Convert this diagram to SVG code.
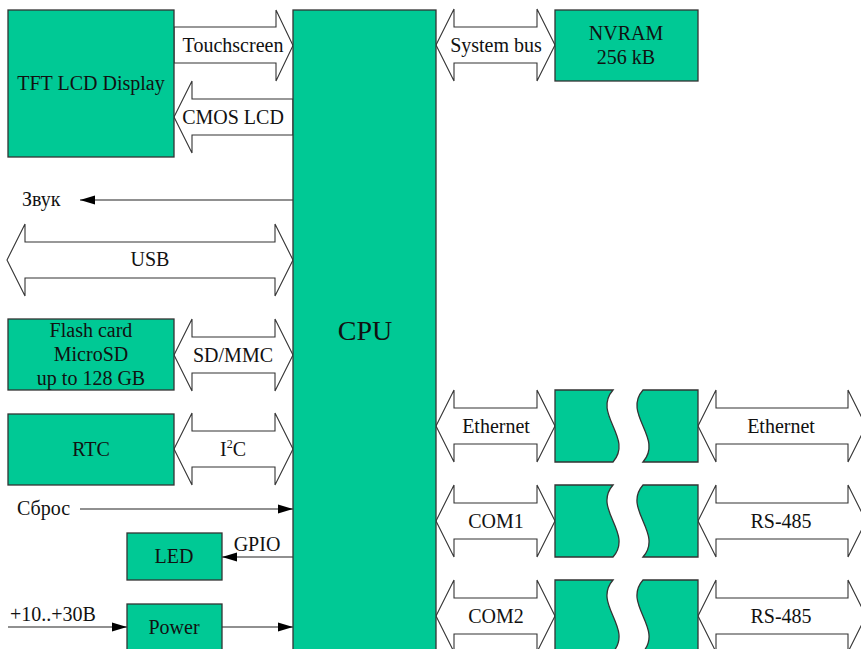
<svg xmlns="http://www.w3.org/2000/svg" width="861" height="649" viewBox="0 0 861 649">
<style>
.box{fill:#00C995;stroke:#333;stroke-width:1.3}
.bus{fill:#fff;stroke:#333;stroke-width:1.1}
.ln{stroke:#222;stroke-width:1.2;fill:none}
text{font-family:"Liberation Serif","Times New Roman",serif;font-size:20px;fill:#111}
.c{text-anchor:middle}
.big{font-size:28px}
</style>
<defs>
<marker id="ah" markerWidth="15" markerHeight="10" refX="15" refY="5" orient="auto" markerUnits="userSpaceOnUse"><path d="M0,0.5 L15,5 L0,9.5 Z" fill="#000"/></marker>
</defs>
<rect width="861" height="649" fill="#fff"/>

<g id="connectors">
<polygon class="bus" points="174,27 276,27 276,10 293,45.5 276,81 276,63 174,63"/>
<text class="c" x="233" y="52">Touchscreen</text>
<polygon class="bus" points="293,99 192,99 192,81 174,117 192,153 192,135 293,135"/>
<text class="c" x="233" y="124">CMOS LCD</text>
<polygon class="bus" points="436,45 454,9 454,27 537,27 537,9 555,45 537,81 537,63 454,63 454,81"/>
<text class="c" x="496" y="52">System bus</text>
<line class="ln" x1="293" y1="200" x2="80" y2="200" marker-end="url(#ah)"/>
<text x="22" y="206">Звук</text>
<polygon class="bus" points="7,260 25,224 25,242 275,242 275,224 293,260 275,296 275,278 25,278 25,296"/>
<text class="c" x="150" y="266">USB</text>
<polygon class="bus" points="174,355 192,319 192,337 275,337 275,319 293,355 275,391 275,373 192,373 192,391"/>
<text class="c" x="233" y="362">SD/MMC</text>
<polygon class="bus" points="174,449 192,413 192,431 275,431 275,413 293,449 275,485 275,467 192,467 192,485"/>
<text class="c" x="233" y="456">I<tspan font-size="12" dy="-8">2</tspan><tspan dy="8">C</tspan></text>
<line class="ln" x1="80" y1="509" x2="293" y2="509" marker-end="url(#ah)"/>
<text x="17" y="515">Сброс</text>
<line class="ln" x1="293" y1="557" x2="222" y2="557" marker-end="url(#ah)"/>
<text class="c" x="257" y="551">GPIO</text>
<line class="ln" x1="8" y1="627" x2="127" y2="627" marker-end="url(#ah)"/>
<text x="10" y="621">+10..+30В</text>
<line class="ln" x1="222" y1="627" x2="293" y2="627" marker-end="url(#ah)"/>

<polygon class="bus" points="436,426 454,390 454,408 537,408 537,390 555,426 537,462 537,444 454,444 454,462"/>
<text class="c" x="496" y="433">Ethernet</text>
<polygon class="bus" points="698,426 716,390 716,408 848,408 848,390 866,426 848,462 848,444 716,444 716,462"/>
<text class="c" x="781" y="433">Ethernet</text>
<polygon class="bus" points="436,521 454,485 454,503 537,503 537,485 555,521 537,557 537,539 454,539 454,557"/>
<text class="c" x="496" y="528">COM1</text>
<polygon class="bus" points="698,521 716,485 716,503 848,503 848,485 866,521 848,557 848,539 716,539 716,557"/>
<text class="c" x="781" y="528">RS-485</text>
<polygon class="bus" points="436,616 454,580 454,598 537,598 537,580 555,616 537,652 537,634 454,634 454,652"/>
<text class="c" x="496" y="623">COM2</text>
<polygon class="bus" points="698,616 716,580 716,598 848,598 848,580 866,616 848,652 848,634 716,634 716,652"/>
<text class="c" x="781" y="623">RS-485</text>
</g>

<g id="cpu"><rect class="box" x="293" y="10" width="143" height="650"/><text class="c big" x="365" y="340">CPU</text></g>
<g id="tft"><rect class="box" x="8" y="10" width="166" height="147"/><text class="c" x="91" y="90">TFT LCD Display</text></g>
<g id="nvram"><rect class="box" x="555" y="10" width="143" height="71"/><text class="c" x="626" y="40">NVRAM</text><text class="c" x="626" y="64">256 kB</text></g>
<g id="flash"><rect class="box" x="8" y="319" width="166" height="71"/><text class="c" x="91" y="337">Flash card</text><text class="c" x="91" y="361">MicroSD</text><text class="c" x="91" y="385">up to 128 GB</text></g>
<g id="rtc"><rect class="box" x="8" y="414" width="166" height="71"/><text class="c" x="91" y="456">RTC</text></g>
<g id="led"><rect class="box" x="127" y="533" width="95" height="47"/><text class="c" x="174" y="563">LED</text></g>
<g id="power"><rect class="box" x="127" y="604" width="95" height="60"/><text class="c" x="174" y="634">Power</text></g>

<g id="eth-a"><path class="box" d="M555,390 H613 C592,414 634,438 613,462 H555 Z"/></g>
<g id="eth-b"><path class="box" d="M643,390 H698 V462 H643 C664,438 622,414 643,390 Z"/></g>
<g id="com1-a"><path class="box" d="M555,485 H613 C592,509 634,533 613,557 H555 Z"/></g>
<g id="com1-b"><path class="box" d="M643,485 H698 V557 H643 C664,533 622,509 643,485 Z"/></g>
<g id="com2-a"><path class="box" d="M555,580 H613 C592,604 634,628 613,652 H555 Z"/></g>
<g id="com2-b"><path class="box" d="M643,580 H698 V652 H643 C664,628 622,604 643,580 Z"/></g>
</svg>
